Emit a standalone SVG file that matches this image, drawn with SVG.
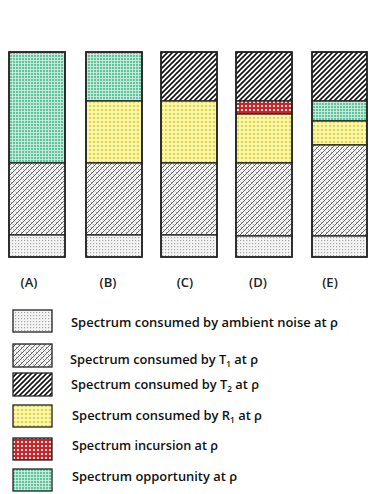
<svg xmlns="http://www.w3.org/2000/svg" width="382" height="494" viewBox="0 0 382 494">
<defs>
<pattern id="pNoise" patternUnits="userSpaceOnUse" width="3" height="3">
<rect width="3" height="3" fill="#f4f4f4"/>
<rect x="0" y="0" width="1.2" height="1.2" fill="#a8a8a8"/>
</pattern>
<pattern id="pT1" patternUnits="userSpaceOnUse" width="5" height="5">
<rect width="5" height="5" fill="#f4f4f4"/>
<path d="M0,5 L5,0 M-1,1 L1,-1 M4,6 L6,4" stroke="#555555" stroke-width="0.9"/>
<path d="M0.8,1.8 L1.8,2.8 M3.2,4.2 L4.2,5.2" stroke="#777777" stroke-width="0.8"/>
</pattern>
<pattern id="pT2" patternUnits="userSpaceOnUse" width="5" height="5">
<rect width="5" height="5" fill="#ffffff"/>
<path d="M0,5 L5,0 M-1,1 L1,-1 M4,6 L6,4" stroke="#111111" stroke-width="1.6"/>
</pattern>
<pattern id="pR1" patternUnits="userSpaceOnUse" width="4" height="4">
<rect width="4" height="4" fill="#faf7b8"/>
<circle cx="2" cy="2" r="1.3" fill="#e3d83e"/>
</pattern>
<pattern id="pInc" patternUnits="userSpaceOnUse" width="4" height="4">
<rect width="4" height="4" fill="#c8262a"/>
<rect x="1" y="1" width="2" height="2" fill="#f6e6e6"/>
</pattern>
<pattern id="pOpp" patternUnits="userSpaceOnUse" width="3" height="3">
<rect width="3" height="3" fill="#62c39d"/>
<path d="M0,0.5 H3 M0.5,0 V3" stroke="#d4f1e5" stroke-width="0.8"/>
</pattern>
</defs>
<style>
.seg{stroke:#222;stroke-width:1.3}
.box{fill:none;stroke:#222;stroke-width:1.6}
.lbl{font-family:"Open Sans","Liberation Sans",sans-serif;font-size:13px;font-weight:600;fill:#222}
.leg{font-family:"Open Sans","Liberation Sans",sans-serif;font-size:12.5px;font-weight:600;fill:#111}
.sub{font-size:8px}
.noise{fill:url(#pNoise)}
.t1{fill:url(#pT1)}
.t2{fill:url(#pT2)}
.r1{fill:url(#pR1)}
.inc{fill:url(#pInc)}
.opp{fill:url(#pOpp)}
</style>
<rect width="382" height="494" fill="#ffffff"/>

<g id="barA">
<rect class="seg opp" x="9" y="52" width="56" height="111"/>
<rect class="seg t1" x="9" y="163" width="56" height="72"/>
<rect class="seg noise" x="9" y="235" width="56" height="22"/>
<rect class="box" x="9" y="52" width="56" height="205"/>
</g>
<g id="barB">
<rect class="seg opp" x="86" y="52" width="56" height="49"/>
<rect class="seg r1" x="86" y="101" width="56" height="62"/>
<rect class="seg t1" x="86" y="163" width="56" height="72"/>
<rect class="seg noise" x="86" y="235" width="56" height="22"/>
<rect class="box" x="86" y="52" width="56" height="205"/>
</g>
<g id="barC">
<rect class="seg t2" x="161" y="52" width="56" height="49"/>
<rect class="seg r1" x="161" y="101" width="56" height="62"/>
<rect class="seg t1" x="161" y="163" width="56" height="72"/>
<rect class="seg noise" x="161" y="235" width="56" height="22"/>
<rect class="box" x="161" y="52" width="56" height="205"/>
</g>
<g id="barD">
<rect class="seg t2" x="236" y="52" width="56" height="49"/>
<rect class="seg inc" x="236" y="101" width="56" height="13"/>
<rect class="seg r1" x="236" y="114" width="56" height="49"/>
<rect class="seg t1" x="236" y="163" width="56" height="73"/>
<rect class="seg noise" x="236" y="236" width="56" height="21"/>
<rect class="box" x="236" y="52" width="56" height="205"/>
</g>
<g id="barE">
<rect class="seg t2" x="312" y="52" width="55" height="49"/>
<rect class="seg opp" x="312" y="101" width="55" height="20"/>
<rect class="seg r1" x="312" y="121" width="55" height="24"/>
<rect class="seg t1" x="312" y="145" width="55" height="91"/>
<rect class="seg noise" x="312" y="236" width="55" height="21"/>
<rect class="box" x="312" y="52" width="55" height="205"/>
</g>

<g id="labels">
<text class="lbl" x="29" y="287" text-anchor="middle">(A)</text>
<text class="lbl" x="108" y="287" text-anchor="middle">(B)</text>
<text class="lbl" x="185" y="287" text-anchor="middle">(C)</text>
<text class="lbl" x="258" y="287" text-anchor="middle">(D)</text>
<text class="lbl" x="330" y="287" text-anchor="middle">(E)</text>
</g>

<g id="legendNoise">
<rect class="seg noise" x="13" y="310" width="39" height="22"/>
<text class="leg" x="71" y="327" textLength="267" lengthAdjust="spacingAndGlyphs">Spectrum consumed by ambient noise at ρ</text>
</g>
<g id="legendT1">
<rect class="seg t1" x="13" y="344" width="39" height="23"/>
<text class="leg" x="70" y="364" textLength="188" lengthAdjust="spacingAndGlyphs">Spectrum consumed by T<tspan class="sub" dy="2.5">1</tspan><tspan dy="-2.5"> at ρ</tspan></text>
</g>
<g id="legendT2">
<rect class="seg t2" x="13" y="373" width="39" height="23"/>
<text class="leg" x="71" y="389" textLength="188" lengthAdjust="spacingAndGlyphs">Spectrum consumed by T<tspan class="sub" dy="2.5">2</tspan><tspan dy="-2.5"> at ρ</tspan></text>
</g>
<g id="legendR1">
<rect class="seg r1" x="13" y="405" width="39" height="22"/>
<text class="leg" x="72" y="420" textLength="190" lengthAdjust="spacingAndGlyphs">Spectrum consumed by R<tspan class="sub" dy="2.5">1</tspan><tspan dy="-2.5"> at ρ</tspan></text>
</g>
<g id="legendInc">
<rect class="seg inc" x="13" y="438" width="39" height="22"/>
<text class="leg" x="72" y="450" textLength="146" lengthAdjust="spacingAndGlyphs">Spectrum incursion at ρ</text>
</g>
<g id="legendOpp">
<rect class="seg opp" x="13" y="469" width="39" height="22"/>
<text class="leg" x="72" y="481" textLength="165" lengthAdjust="spacingAndGlyphs">Spectrum opportunity at ρ</text>
</g>
</svg>
